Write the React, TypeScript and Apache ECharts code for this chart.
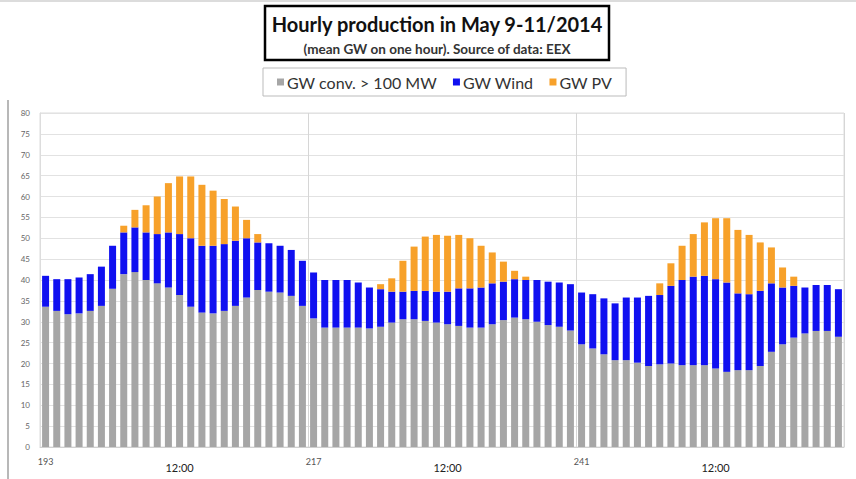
import React, { useEffect, useRef } from "react";
import * as echarts from "echarts";

// Hour index of each bar (hours since start of year in source data)
const hours = [
  "193", "194", "195", "196", "197", "198", "199", "200", "201", "202", "203", "204",
  "205", "206", "207", "208", "209", "210", "211", "212", "213", "214", "215", "216",
  "217", "218", "219", "220", "221", "222", "223", "224", "225", "226", "227", "228",
  "229", "230", "231", "232", "233", "234", "235", "236", "237", "238", "239", "240",
  "241", "242", "243", "244", "245", "246", "247", "248", "249", "250", "251", "252",
  "253", "254", "255", "256", "257", "258", "259", "260", "261", "262", "263", "264",
];

const seriesNames = ["GW conv. > 100 MW", "GW Wind", "GW PV"];

const conv = [
  33.6, 32.6, 31.8, 32.0, 32.6, 33.8, 37.9, 41.4, 41.9, 40.0, 39.2, 38.2,
  36.4, 33.6, 32.2, 32.0, 32.6, 33.8, 35.8, 37.6, 37.2, 37.0, 36.2, 33.8,
  30.8, 28.6, 28.6, 28.6, 28.6, 28.4, 28.8, 29.8, 30.6, 30.6, 30.2, 29.8,
  29.4, 29.0, 28.6, 28.6, 29.4, 30.4, 31.0, 30.6, 30.0, 29.2, 28.8, 27.9,
  24.6, 23.6, 22.2, 20.8, 20.8, 20.2, 19.4, 19.8, 20.0, 19.6, 19.6, 19.6,
  18.8, 18.0, 18.4, 18.4, 19.4, 22.8, 24.6, 26.2, 27.2, 27.8, 27.8, 26.4,
];

const wind = [
  7.4, 7.6, 8.4, 8.6, 8.8, 9.4, 10.3, 10.0, 10.7, 11.4, 11.8, 13.2,
  14.6, 16.4, 16.0, 16.2, 16.0, 15.6, 14.2, 11.4, 11.6, 11.2, 11.0, 10.8,
  11.0, 11.4, 11.4, 11.4, 10.8, 9.8, 9.0, 7.4, 6.6, 6.8, 7.2, 7.4,
  7.8, 9.0, 9.4, 9.6, 9.8, 9.2, 9.2, 9.4, 10.0, 10.4, 10.6, 11.1,
  12.4, 13.0, 13.4, 13.6, 15.0, 15.6, 16.8, 16.6, 18.6, 20.4, 21.2, 21.4,
  21.4, 21.4, 18.4, 18.2, 18.0, 16.4, 13.6, 12.4, 11.0, 11.0, 11.0, 11.4,
];

const pv = [
  0, 0, 0, 0, 0, 0, 0, 1.6, 4.2, 6.5, 9.0, 11.8,
  13.8, 14.8, 14.6, 13.2, 10.8, 8.2, 4.4, 2.0, 0, 0, 0, 0,
  0, 0, 0, 0, 0, 0, 1.2, 3.2, 7.4, 10.6, 13.0, 13.6,
  13.4, 12.8, 12.0, 10.0, 7.4, 4.8, 2.0, 0.8, 0, 0, 0, 0,
  0, 0, 0, 0, 0, 0, 0, 2.8, 5.4, 8.2, 10.2, 12.8,
  14.6, 15.4, 15.2, 14.2, 11.6, 8.6, 4.8, 2.2, 0, 0, 0, 0,
];

const noonLabel = "12:00";

export default function App() {
  const ref = useRef<HTMLDivElement>(null);

  useEffect(() => {
    if (!ref.current) return;
    const chart = echarts.init(ref.current, null, { renderer: "svg" });
    const font = "Lato, 'Open Sans', sans-serif";
    const colors = ["#a6a6a6", "#1010f0", "#f7a12a"];

    chart.setOption({
      animation: false,
      backgroundColor: "#ffffff",
      textStyle: { fontFamily: font },
      title: {
        text: "Hourly production in May 9-11/2014",
        subtext: "(mean GW on one hour). Source of data: EEX",
        left: 437,
        top: 14,
        textAlign: "center",
        itemGap: 8,
        padding: 0,
        textStyle: { fontFamily: font, fontSize: 20, fontWeight: "bold", color: "#111" },
        subtextStyle: { fontFamily: font, fontSize: 13.5, fontWeight: "bold", color: "#333" },
      },
      legend: {
        data: seriesNames,
        left: 263,
        top: 68,
        borderColor: "#bbbbbb",
        borderWidth: 1,
        padding: [6, 14, 6, 14],
        itemWidth: 7,
        itemHeight: 7,
        itemGap: 16,
        icon: "rect",
        textStyle: { fontFamily: font, fontSize: 16, color: "#333", padding: [0, 0, 0, -2] },
      },
      grid: {
        left: 40,
        right: 12,
        top: 113,
        bottom: 32,
        show: true,
        borderColor: "#dddddd",
        borderWidth: 1,
      },
      xAxis: {
        type: "category",
        data: hours,
        axisTick: { show: false },
        axisLine: { show: true, lineStyle: { color: "#d0d0d0" } },
        axisLabel: {
          interval: (index: number) => index % 12 === 0,
          margin: 10,
          formatter: (value: string, index: number) =>
            index % 24 === 12 ? "{b|" + noonLabel + "}" : "{a|" + value + "}",
          rich: {
            a: { fontFamily: font, fontSize: 9, color: "#555" },
            b: { fontFamily: font, fontSize: 11, color: "#222", padding: [5, 0, 0, 0] },
          },
        },
        splitLine: {
          show: true,
          interval: (index: number) => index % 24 === 0,
          lineStyle: { color: "#d6d6d6", width: 1 },
        },
      },
      yAxis: {
        type: "value",
        min: 0,
        max: 80,
        interval: 5,
        axisLine: { show: true, lineStyle: { color: "#dddddd" } },
        axisTick: { show: false },
        axisLabel: { fontFamily: font, fontSize: 8, color: "#666", margin: 10 },
        splitLine: { lineStyle: { color: "#e2e2e2", width: 1 } },
      },
      series: [
        { name: seriesNames[0], type: "bar", stack: "total", data: conv, barWidth: 7, itemStyle: { color: colors[0] } },
        { name: seriesNames[1], type: "bar", stack: "total", data: wind, barWidth: 7, itemStyle: { color: colors[1] } },
        { name: seriesNames[2], type: "bar", stack: "total", data: pv, barWidth: 7, itemStyle: { color: colors[2] } },
      ],
      graphic: [
        {
          type: "rect",
          shape: { x: 265, y: 6, width: 344, height: 54 },
          style: { fill: "none", stroke: "#000", lineWidth: 2.5 },
          silent: true,
        },
        {
          type: "line",
          shape: { x1: 8, y1: 100, x2: 8, y2: 479 },
          style: { stroke: "#a0a0a0", lineWidth: 1.5 },
          silent: true,
        },
        {
          type: "line",
          shape: { x1: 0, y1: 1, x2: 856, y2: 1 },
          style: { stroke: "#d0d0d0", lineWidth: 1.5 },
          silent: true,
        },
      ],
    });

    return () => chart.dispose();
  }, []);

  return (
    <div
      ref={ref}
      style={{ position: "fixed", left: 0, top: 0, width: 856, height: 479, background: "#fff" }}
    />
  );
}
